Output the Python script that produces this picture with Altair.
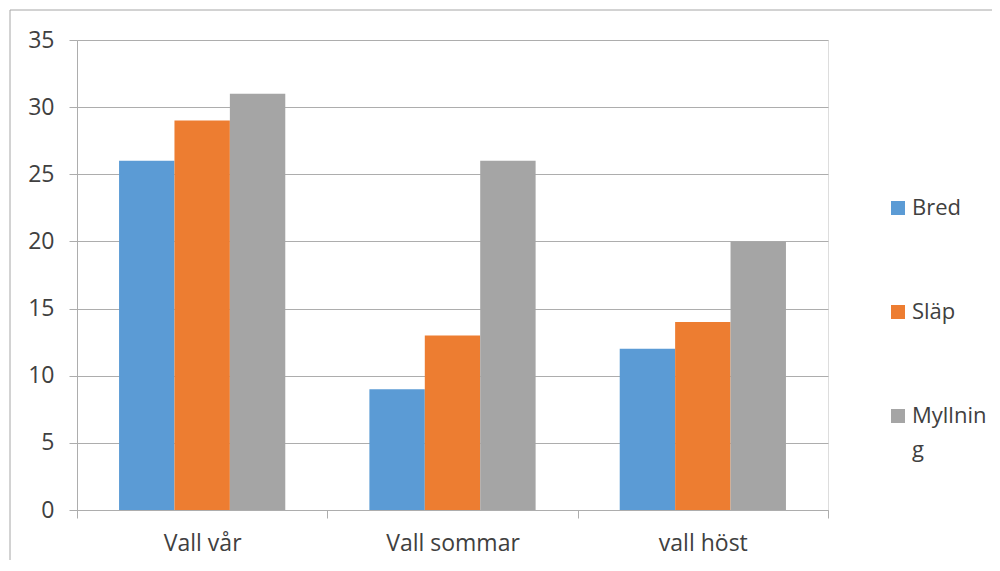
import altair as alt
import pandas as pd

categories = ["Vall vår", "Vall sommar", "vall höst"]
series = ["Bred", "Släp", "Myllning"]
bred = [26, 9, 12]
slap = [29, 13, 14]
myllning = [31, 26, 20]
colors = ["#5B9BD5", "#ED7D31", "#A5A5A5"]
y_ticks = [0, 5, 10, 15, 20, 25, 30, 35]

rows = []
for s, vals in zip(series, [bred, slap, myllning]):
    for c, v in zip(categories, vals):
        rows.append({"kategori": c, "serie": s, "varde": v})
df = pd.DataFrame(rows)

FONT = "Open Sans"
TXT = "#404040"
LINE = "#ADADAD"

bars = alt.Chart(df).mark_bar().encode(
    x=alt.X(
        "kategori:N",
        sort=categories,
        scale=alt.Scale(paddingInner=0, paddingOuter=0),
        axis=alt.Axis(
            title=None, labelAngle=0, tickBand="extent", ticks=True, tickSize=8,
            tickColor=LINE, domainColor=LINE, labelPadding=14,
            labelFont=FONT, labelFontSize=23, labelColor=TXT, grid=False,
        ),
    ),
    xOffset=alt.XOffset(
        "serie:N", sort=series, scale=alt.Scale(paddingInner=0, paddingOuter=0.759)
    ),
    y=alt.Y(
        "varde:Q",
        scale=alt.Scale(domain=[0, 35], nice=False),
        axis=alt.Axis(
            title=None, values=y_ticks, tickSize=8, tickColor=LINE, domainColor=LINE,
            gridColor=LINE, grid=True, labelPadding=15,
            labelFont=FONT, labelFontSize=23, labelColor=TXT,
        ),
    ),
    color=alt.Color(
        "serie:N",
        sort=series,
        scale=alt.Scale(domain=series, range=colors),
        legend=alt.Legend(
            title=None, orient="none", legendX=810, legendY=157,
            direction="vertical", symbolType="square", symbolSize=196,
            symbolStrokeWidth=0, labelFont=FONT, labelFontSize=22,
            labelColor=TXT, rowPadding=82, labelOffset=3,
            labelExpr="datum.label == 'Myllning' ? ['Myllnin', 'g'] : datum.label",
        ),
    ),
)

border = alt.Chart(pd.DataFrame({"b": [0]})).mark_rect(
    fill="transparent", stroke="#A6A6A6", strokeWidth=1
).encode(
    x=alt.value(-67), x2=alt.value(1100), y=alt.value(-30), y2=alt.value(900)
)

chart = alt.layer(border, bars).properties(
    width=751,
    height=470,
    autosize=alt.AutoSizeParams(type="none"),
    padding={"left": 69, "top": 32, "right": 164, "bottom": 50},
).configure_view(stroke=None).configure(
    background="white", style={"guide-label": {"lineHeight": 34}}
)

chart.save("out.html", embed_options={"renderer": "svg", "actions": False})
